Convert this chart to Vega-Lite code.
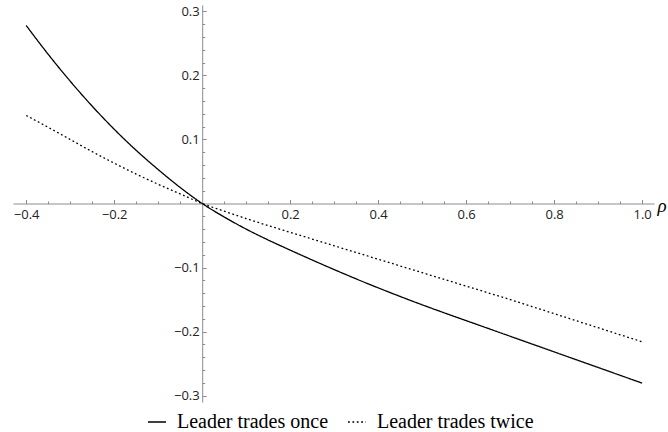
{
  "$schema": "https://vega.github.io/schema/vega-lite/v6.json",
  "width": 641,
  "height": 397,
  "autosize": "none",
  "padding": {"left": 13, "top": 5, "right": 14, "bottom": 30},
  "background": "white",
  "config": {
    "view": {"stroke": null},
    "axis": {"grid": false, "domainColor": "#8c8c8c", "tickColor": "#8c8c8c", "labelColor": "#222222", "labelFont": "Open Sans", "labelFontSize": 13}
  },
  "data": {
    "values": [
      {"rho": -0.4, "v": 0.278, "s": "Leader trades once"},
      {"rho": -0.35, "v": 0.233, "s": "Leader trades once"},
      {"rho": -0.3, "v": 0.191, "s": "Leader trades once"},
      {"rho": -0.25, "v": 0.152, "s": "Leader trades once"},
      {"rho": -0.2, "v": 0.116, "s": "Leader trades once"},
      {"rho": -0.15, "v": 0.083, "s": "Leader trades once"},
      {"rho": -0.1, "v": 0.053, "s": "Leader trades once"},
      {"rho": -0.05, "v": 0.025, "s": "Leader trades once"},
      {"rho": 0.0, "v": 0.0, "s": "Leader trades once"},
      {"rho": 0.05, "v": -0.021, "s": "Leader trades once"},
      {"rho": 0.1, "v": -0.040, "s": "Leader trades once"},
      {"rho": 0.15, "v": -0.057, "s": "Leader trades once"},
      {"rho": 0.2, "v": -0.0728, "s": "Leader trades once"},
      {"rho": 0.25, "v": -0.0882, "s": "Leader trades once"},
      {"rho": 0.3, "v": -0.1032, "s": "Leader trades once"},
      {"rho": 0.35, "v": -0.1177, "s": "Leader trades once"},
      {"rho": 0.4, "v": -0.1317, "s": "Leader trades once"},
      {"rho": 0.45, "v": -0.1452, "s": "Leader trades once"},
      {"rho": 0.5, "v": -0.1582, "s": "Leader trades once"},
      {"rho": 0.55, "v": -0.1707, "s": "Leader trades once"},
      {"rho": 0.6, "v": -0.1829, "s": "Leader trades once"},
      {"rho": 0.65, "v": -0.1951, "s": "Leader trades once"},
      {"rho": 0.7, "v": -0.2073, "s": "Leader trades once"},
      {"rho": 0.75, "v": -0.2195, "s": "Leader trades once"},
      {"rho": 0.8, "v": -0.2317, "s": "Leader trades once"},
      {"rho": 0.85, "v": -0.2439, "s": "Leader trades once"},
      {"rho": 0.9, "v": -0.2561, "s": "Leader trades once"},
      {"rho": 0.95, "v": -0.2683, "s": "Leader trades once"},
      {"rho": 1.0, "v": -0.2805, "s": "Leader trades once"},
      {"rho": -0.4, "v": 0.1375, "s": "Leader trades twice"},
      {"rho": -0.35, "v": 0.119, "s": "Leader trades twice"},
      {"rho": -0.3, "v": 0.100, "s": "Leader trades twice"},
      {"rho": -0.25, "v": 0.081, "s": "Leader trades twice"},
      {"rho": -0.2, "v": 0.063, "s": "Leader trades twice"},
      {"rho": -0.15, "v": 0.046, "s": "Leader trades twice"},
      {"rho": -0.1, "v": 0.030, "s": "Leader trades twice"},
      {"rho": -0.05, "v": 0.015, "s": "Leader trades twice"},
      {"rho": 0.0, "v": 0.0, "s": "Leader trades twice"},
      {"rho": 0.05, "v": -0.012, "s": "Leader trades twice"},
      {"rho": 0.1, "v": -0.0235, "s": "Leader trades twice"},
      {"rho": 0.15, "v": -0.0345, "s": "Leader trades twice"},
      {"rho": 0.2, "v": -0.045, "s": "Leader trades twice"},
      {"rho": 0.25, "v": -0.0555, "s": "Leader trades twice"},
      {"rho": 0.3, "v": -0.066, "s": "Leader trades twice"},
      {"rho": 0.35, "v": -0.0765, "s": "Leader trades twice"},
      {"rho": 0.4, "v": -0.087, "s": "Leader trades twice"},
      {"rho": 0.45, "v": -0.0975, "s": "Leader trades twice"},
      {"rho": 0.5, "v": -0.108, "s": "Leader trades twice"},
      {"rho": 0.55, "v": -0.1185, "s": "Leader trades twice"},
      {"rho": 0.6, "v": -0.129, "s": "Leader trades twice"},
      {"rho": 0.65, "v": -0.1395, "s": "Leader trades twice"},
      {"rho": 0.7, "v": -0.150, "s": "Leader trades twice"},
      {"rho": 0.75, "v": -0.161, "s": "Leader trades twice"},
      {"rho": 0.8, "v": -0.172, "s": "Leader trades twice"},
      {"rho": 0.85, "v": -0.183, "s": "Leader trades twice"},
      {"rho": 0.9, "v": -0.194, "s": "Leader trades twice"},
      {"rho": 0.95, "v": -0.205, "s": "Leader trades twice"},
      {"rho": 1.0, "v": -0.216, "s": "Leader trades twice"}
    ]
  },
  "resolve": {"axis": {"x": "independent", "y": "independent"}},
  "layer": [
    {
      "mark": {"type": "line", "opacity": 0},
      "encoding": {
        "x": {"field": "rho", "type": "quantitative", "scale": {"domain": [-0.43, 1.027], "nice": false, "zero": false},
          "axis": {"orient": "bottom", "offset": -198.5, "values": [-0.35,-0.3,-0.25,-0.15,-0.1,-0.05,0.05,0.1,0.15,0.25,0.3,0.35,0.45,0.5,0.55,0.65,0.7,0.75,0.85,0.9,0.95], "labels": false, "domain": false, "tickSize": -2.5, "title": null}},
        "y": {"field": "v", "type": "quantitative", "scale": {"domain": [-0.31, 0.31], "nice": false, "zero": false},
          "axis": {"orient": "left", "offset": -189.2, "values": [-0.28,-0.26,-0.24,-0.22,-0.18,-0.16,-0.14,-0.12,-0.08,-0.06,-0.04,-0.02,0.02,0.04,0.06,0.08,0.12,0.14,0.16,0.18,0.22,0.24,0.26,0.28], "labels": false, "domain": false, "tickSize": -2.5, "title": null}},
        "detail": {"field": "s"}
      }
    },
    {
      "mark": {"type": "line", "color": "black", "strokeWidth": 1.3, "interpolate": "monotone"},
      "encoding": {
        "x": {"field": "rho", "type": "quantitative",
          "axis": {"orient": "bottom", "offset": -198.5, "values": [-0.4,-0.2,0.2,0.4,0.6,0.8,1.0], "format": ".1f", "tickSize": -4, "labelPadding": 9, "title": "ρ", "titleFont": "Liberation Serif, Times New Roman, serif", "titleFontStyle": "italic", "titleFontWeight": "normal", "titleFontSize": 19, "titleColor": "black", "titleX": 644, "titleY": 8, "titleAlign": "left", "titleBaseline": "alphabetic", "titleAngle": 0}},
        "y": {"field": "v", "type": "quantitative",
          "axis": {"orient": "left", "offset": -189.2, "values": [-0.3,-0.2,-0.1,0.1,0.2,0.3], "format": ".1f", "tickSize": -4, "labelPadding": 7, "title": null}},
        "strokeDash": {"field": "s", "type": "nominal", "scale": {"range": [[1, 0], [1.8, 2.6]]},
          "legend": {"orient": "none", "legendX": 134, "legendY": 407, "direction": "horizontal", "title": null, "symbolType": "stroke", "symbolSize": 324, "symbolStrokeWidth": 1.3, "symbolStrokeColor": "black", "labelFont": "Liberation Serif, Times New Roman, serif", "labelFontSize": 20, "labelColor": "black", "labelOffset": 10, "labelLimit": 0, "columnPadding": 16}}
      }
    }
  ]
}
